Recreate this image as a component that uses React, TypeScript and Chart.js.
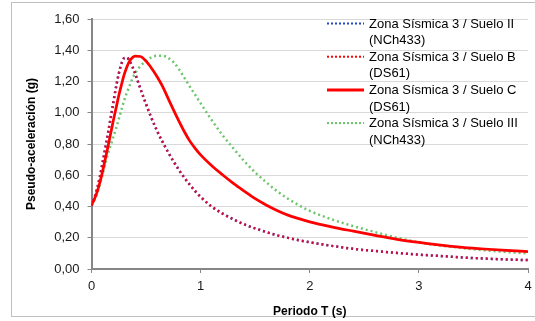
import React, { useEffect, useRef } from "react";
import { Chart, registerables } from "chart.js";

Chart.register(...registerables);

// Period T (s)
const periods = [
  0, 0.025, 0.05, 0.075, 0.1, 0.125, 0.15, 0.175, 0.2, 0.225, 0.25, 0.275, 0.3, 0.325, 0.35, 0.375,
  0.4, 0.45, 0.5, 0.55, 0.6, 0.65, 0.7, 0.75, 0.8, 0.85, 0.9, 0.95, 1.0, 1.1, 1.2, 1.3, 1.4, 1.5,
  1.6, 1.7, 1.8, 1.9, 2.0, 2.2, 2.4, 2.6, 2.8, 3.0, 3.2, 3.4, 3.6, 3.8, 4.0,
];

// Zona Sísmica 3 / Suelo II (NCh433)
const sueloII = [
  0.405, 0.45, 0.51, 0.585, 0.675, 0.77, 0.865, 0.965, 1.065, 1.165, 1.25, 1.315, 1.35, 1.352, 1.33, 1.295,
  1.25, 1.15, 1.055, 0.965, 0.885, 0.815, 0.75, 0.69, 0.635, 0.585, 0.54, 0.498, 0.462, 0.4, 0.355, 0.318, 0.285, 0.26,
  0.237, 0.216, 0.199, 0.184, 0.171, 0.148, 0.129, 0.115, 0.103, 0.092, 0.083, 0.074, 0.067, 0.061, 0.057,
];

// Zona Sísmica 3 / Suelo B (DS61)
const sueloB = [
  0.405, 0.45, 0.51, 0.585, 0.675, 0.77, 0.865, 0.965, 1.065, 1.165, 1.25, 1.315, 1.35, 1.352, 1.33, 1.295,
  1.25, 1.15, 1.055, 0.965, 0.885, 0.815, 0.75, 0.69, 0.635, 0.585, 0.54, 0.498, 0.462, 0.4, 0.355, 0.318, 0.285, 0.26,
  0.237, 0.216, 0.199, 0.184, 0.171, 0.148, 0.129, 0.115, 0.103, 0.092, 0.083, 0.074, 0.067, 0.061, 0.057,
];

// Zona Sísmica 3 / Suelo C (DS61)
const sueloC = [
  0.41, 0.445, 0.49, 0.55, 0.62, 0.7, 0.78, 0.865, 0.95, 1.03, 1.11, 1.18, 1.245, 1.295, 1.332, 1.353,
  1.362, 1.36, 1.33, 1.285, 1.232, 1.17, 1.095, 1.02, 0.948, 0.88, 0.82, 0.772, 0.73, 0.662, 0.603, 0.548, 0.498, 0.45,
  0.41, 0.375, 0.345, 0.322, 0.302, 0.27, 0.242, 0.215, 0.19, 0.17, 0.153, 0.139, 0.128, 0.119, 0.111,
];

// Zona Sísmica 3 / Suelo III (NCh433)
const sueloIII = [
  0.41, 0.44, 0.48, 0.535, 0.6, 0.67, 0.735, 0.79, 0.845, 0.9, 0.96, 1.02, 1.08, 1.13, 1.175, 1.218,
  1.253, 1.3, 1.333, 1.355, 1.365, 1.365, 1.352, 1.325, 1.28, 1.225, 1.168, 1.115, 1.06, 0.955, 0.857, 0.772, 0.69, 0.618,
  0.556, 0.498, 0.45, 0.408, 0.372, 0.318, 0.274, 0.236, 0.2, 0.171, 0.15, 0.134, 0.12, 0.109, 0.1,
];

const seriesNames = [
  ["Zona Sísmica 3 / Suelo II", "(NCh433)"],
  ["Zona Sísmica 3 / Suelo B", "(DS61)"],
  ["Zona Sísmica 3 / Suelo C", "(DS61)"],
  ["Zona Sísmica 3 / Suelo III", "(NCh433)"],
];

const xAxisTitle = "Periodo T (s)";
const yAxisTitle = "Pseudo-aceleración (g)";

const FONT = '"Liberation Sans", Arial, sans-serif';

const toPoints = (vals: number[]) => periods.map((t, i) => ({ x: t, y: vals[i] }));

const legendPlugin = {
  id: "customLegend",
  afterDraw(chart: any) {
    const ctx = chart.ctx as CanvasRenderingContext2D;
    ctx.save();
    const x0 = 327;
    const x1 = 364;
    const tx = 369;
    const itemH = 33.2;
    const lineH = 16.7;
    chart.data.datasets.forEach((ds: any, i: number) => {
      const y = 23.5 + i * itemH;
      const isDotted = ds.borderDash && ds.borderDash.length;
      ctx.strokeStyle = ds.legendColor;
      ctx.lineWidth = isDotted ? 2 : 3;
      ctx.setLineDash(isDotted ? [2, 2] : []);
      ctx.lineCap = "butt";
      ctx.beginPath();
      ctx.moveTo(x0, y);
      ctx.lineTo(x1, y);
      ctx.stroke();
      ctx.setLineDash([]);
      ctx.fillStyle = "#000";
      ctx.font = `13px ${FONT}`;
      ctx.textBaseline = "middle";
      ctx.textAlign = "left";
      ds.legendLines.forEach((t: string, j: number) => {
        ctx.fillText(t, tx, y + 0.5 + j * lineH);
      });
    });
    ctx.restore();
  },
};

const framePlugin = {
  id: "frame",
  beforeDraw(chart: any) {
    const ctx = chart.ctx as CanvasRenderingContext2D;
    ctx.save();
    ctx.fillStyle = "#fff";
    ctx.fillRect(0, 0, chart.width, chart.height);
    ctx.strokeStyle = "#bfbfbf";
    ctx.lineWidth = 1;
    ctx.strokeRect(11.5, 2.5, 620, 314);
    ctx.restore();
  },
};

export default function App() {
  const ref = useRef<HTMLCanvasElement | null>(null);

  useEffect(() => {
    if (!ref.current) return;
    const dotted = [2, 3];
    const chart = new Chart(ref.current, {
      type: "line",
      data: {
        datasets: [
          {
            label: seriesNames[0].join(" "),
            legendLines: seriesNames[0],
            legendColor: "#2347c9",
            data: toPoints(sueloII),
            borderColor: "#2347c9",
            borderWidth: 2.5,
            borderDash: dotted,
            borderCapStyle: "butt",
            pointRadius: 0,
            cubicInterpolationMode: "monotone",
            fill: false,
            order: 3,
          } as any,
          {
            label: seriesNames[1].join(" "),
            legendLines: seriesNames[1],
            legendColor: "#ff0000",
            data: toPoints(sueloB),
            borderColor: "rgba(240,0,30,0.82)",
            borderWidth: 2.5,
            borderDash: dotted,
            borderCapStyle: "butt",
            pointRadius: 0,
            cubicInterpolationMode: "monotone",
            fill: false,
            order: 2,
          } as any,
          {
            label: seriesNames[2].join(" "),
            legendLines: seriesNames[2],
            legendColor: "#ff0000",
            data: toPoints(sueloC),
            borderColor: "#ff0000",
            borderWidth: 2.75,
            borderDash: [],
            pointRadius: 0,
            cubicInterpolationMode: "monotone",
            fill: false,
            order: 1,
          } as any,
          {
            label: seriesNames[3].join(" "),
            legendLines: seriesNames[3],
            legendColor: "#66c466",
            data: toPoints(sueloIII),
            borderColor: "#6cc56c",
            borderWidth: 2.5,
            borderDash: dotted,
            borderCapStyle: "butt",
            pointRadius: 0,
            cubicInterpolationMode: "monotone",
            fill: false,
            order: 4,
          } as any,
        ],
      },
      options: {
        animation: false,
        responsive: false,
        maintainAspectRatio: false,
        events: [],
        layout: { padding: { left: 12, top: 19, right: 7, bottom: 0 } },
        plugins: {
          legend: { display: false },
          tooltip: { enabled: false },
          title: { display: false },
        },
        scales: {
          x: {
            type: "linear",
            min: 0,
            max: 4,
            afterFit: (s: any) => {
              s.height = 52;
              s.paddingLeft = 0;
              s.paddingRight = 0;
            },
            ticks: {
              stepSize: 1,
              color: "#1a1a1a",
              font: { family: FONT, size: 13 },
              padding: 6,
              maxRotation: 0,
            },
            grid: {
              drawOnChartArea: false,
              drawTicks: true,
              tickLength: 4,
              tickColor: "#868686",
              tickWidth: 1,
            },
            border: { display: true, color: "#868686", width: 2 },
            title: {
              display: true,
              text: xAxisTitle,
              color: "#000",
              font: { family: FONT, size: 12, weight: "bold" },
              padding: { top: 0, bottom: 2 },
            },
          },
          y: {
            type: "linear",
            min: 0,
            max: 1.6,
            afterFit: (s: any) => {
              s.width = 79.5;
              s.paddingTop = 0;
              s.paddingBottom = 0;
            },
            ticks: {
              stepSize: 0.2,
              color: "#1a1a1a",
              font: { family: FONT, size: 13 },
              padding: 8,
              callback: (v: any) => Number(v).toFixed(2).replace(".", ","),
            },
            grid: {
              color: "#d9d9d9",
              lineWidth: 1,
              drawTicks: true,
              tickLength: 4,
              tickColor: "#868686",
            },
            border: { display: true, color: "#868686", width: 2 },
            title: {
              display: true,
              text: yAxisTitle,
              color: "#000",
              font: { family: FONT, size: 12, weight: "bold" },
              padding: { top: 12, bottom: 0 },
            },
          },
        },
      } as any,
      plugins: [framePlugin, legendPlugin],
    });
    return () => chart.destroy();
  }, []);

  return (
    <div
      style={{
        position: "fixed",
        left: 0,
        top: 0,
        width: 535,
        height: 321,
        background: "#fff",
        overflow: "hidden",
      }}
    >
      <canvas ref={ref} width={535} height={321} style={{ display: "block", width: 535, height: 321 }} />
    </div>
  );
}
